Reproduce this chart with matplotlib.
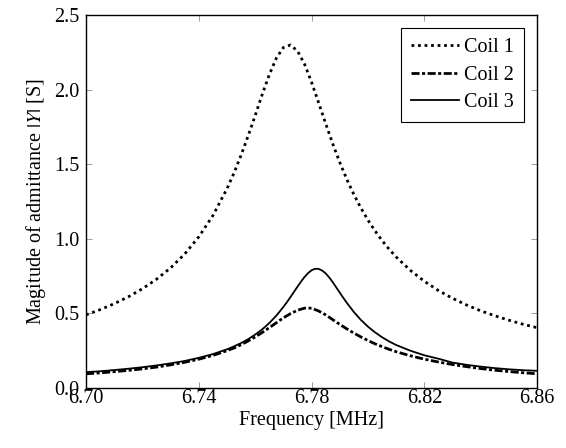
import matplotlib
matplotlib.use('Agg')
import matplotlib.pyplot as plt
from matplotlib.ticker import FormatStrFormatter

plt.rcParams['font.family'] = ['Liberation Serif', 'DejaVu Serif']
plt.rcParams['mathtext.fontset'] = 'stix'

# Frequency grid [MHz] (denser around the resonance)
freq = [6.700, 6.705, 6.710, 6.715, 6.720, 6.725, 6.730, 6.735, 6.740, 6.745,
        6.750, 6.7525, 6.755, 6.7575, 6.760, 6.7625, 6.765, 6.7675, 6.770, 6.7725,
        6.775, 6.7775, 6.780, 6.7825, 6.785, 6.7875, 6.790, 6.7925, 6.795, 6.7975,
        6.800, 6.8025, 6.805, 6.8075, 6.810, 6.815, 6.820, 6.825, 6.830, 6.835,
        6.840, 6.845, 6.850, 6.855, 6.860]

# |Y| [S]
coil1 = [0.490, 0.525, 0.565, 0.611, 0.665, 0.729, 0.805, 0.898, 1.013, 1.156,
         1.336, 1.442, 1.561, 1.690, 1.827, 1.968, 2.100, 2.211, 2.282, 2.299,
         2.259, 2.171, 2.049, 1.912, 1.772, 1.637, 1.512, 1.398, 1.297, 1.206,
         1.125, 1.053, 0.988, 0.930, 0.878, 0.789, 0.715, 0.653, 0.601, 0.556,
         0.517, 0.484, 0.454, 0.427, 0.404]

coil2 = [0.095, 0.101, 0.109, 0.118, 0.128, 0.140, 0.155, 0.172, 0.193, 0.218,
         0.250, 0.268, 0.290, 0.315, 0.342, 0.372, 0.404, 0.437, 0.470, 0.498,
         0.521, 0.535, 0.535, 0.516, 0.490, 0.458, 0.426, 0.396, 0.368, 0.342,
         0.318, 0.296, 0.277, 0.259, 0.243, 0.216, 0.193, 0.174, 0.157, 0.143,
         0.130, 0.119, 0.110, 0.102, 0.095]

# Coil 3 has a sharper peak, so it gets a finer grid near 6.78 MHz
freq3 = [6.700, 6.705, 6.710, 6.715, 6.720, 6.725, 6.730, 6.735, 6.740, 6.745,
         6.750, 6.7525, 6.755, 6.7575, 6.760, 6.7625, 6.765, 6.7675, 6.770,
         6.77125, 6.7725, 6.77375, 6.775, 6.77625, 6.7775, 6.77875, 6.780,
         6.78125, 6.7825, 6.78375, 6.785, 6.78625, 6.7875, 6.78875, 6.790,
         6.79125, 6.7925, 6.795, 6.7975, 6.800, 6.8025, 6.805, 6.8075, 6.810,
         6.815, 6.820, 6.825, 6.830, 6.835, 6.840, 6.845, 6.850, 6.855, 6.860]

coil3 = [0.106, 0.112, 0.120, 0.129, 0.139, 0.151, 0.165, 0.181, 0.202, 0.227,
         0.259, 0.279, 0.301, 0.327, 0.358, 0.393, 0.435, 0.485, 0.543,
         0.575, 0.609, 0.644, 0.679, 0.713, 0.744, 0.770, 0.789,
         0.799, 0.798, 0.787, 0.768, 0.741, 0.709, 0.674, 0.639,
         0.604, 0.571, 0.509, 0.456, 0.411, 0.373, 0.340, 0.312, 0.288,
         0.250, 0.219, 0.196, 0.170, 0.155, 0.143, 0.133, 0.125, 0.119, 0.115]

labels = ['Coil 1', 'Coil 2', 'Coil 3']
xticks = [6.70, 6.74, 6.78, 6.82, 6.86]
yticks = [0.0, 0.5, 1.0, 1.5, 2.0, 2.5]

FS = 14.5

fig = plt.figure(figsize=(5.66, 4.48), dpi=100)
ax = fig.add_axes([0.152, 0.134, 0.797, 0.8325])

ax.plot(freq, coil1, color='black', lw=2.0, linestyle=(0, (1.0, 1.35)),
        dash_capstyle='butt', label=labels[0])
ax.plot(freq, coil2, color='black', lw=2.0, linestyle=(0, (2.9, 0.9, 1.1, 0.9)),
        dash_capstyle='butt', label=labels[1])
ax.plot(freq3, coil3, color='black', lw=1.3, linestyle='-', label=labels[2])

ax.set_xlim(6.70, 6.86)
ax.set_ylim(0.0, 2.5)
ax.set_xticks(xticks)
ax.set_yticks(yticks)
ax.xaxis.set_major_formatter(FormatStrFormatter('%.2f'))
ax.yaxis.set_major_formatter(FormatStrFormatter('%.1f'))

ax.tick_params(direction='in', top=True, right=True, length=4, width=0.7,
               color='#9a9a9a', labelsize=FS)
ax.tick_params(axis='x', pad=1)
ax.tick_params(axis='y', pad=5)
for s in ax.spines.values():
    s.set_linewidth(1.0)
    s.set_color('black')

ax.set_xlabel('Frequency [MHz]', fontsize=FS, labelpad=2)
ax.set_ylabel('Magitude of admittance $|Y|$ [S]', fontsize=FS, labelpad=4)

leg = ax.legend(loc='upper right', fontsize=FS, fancybox=False, framealpha=1,
                edgecolor='black', handlelength=2.4, borderpad=0.5,
                labelspacing=0.42, handletextpad=0.25, borderaxespad=0.65)
leg.get_frame().set_linewidth(0.8)

plt.savefig('out.png', dpi=100, facecolor='white')
